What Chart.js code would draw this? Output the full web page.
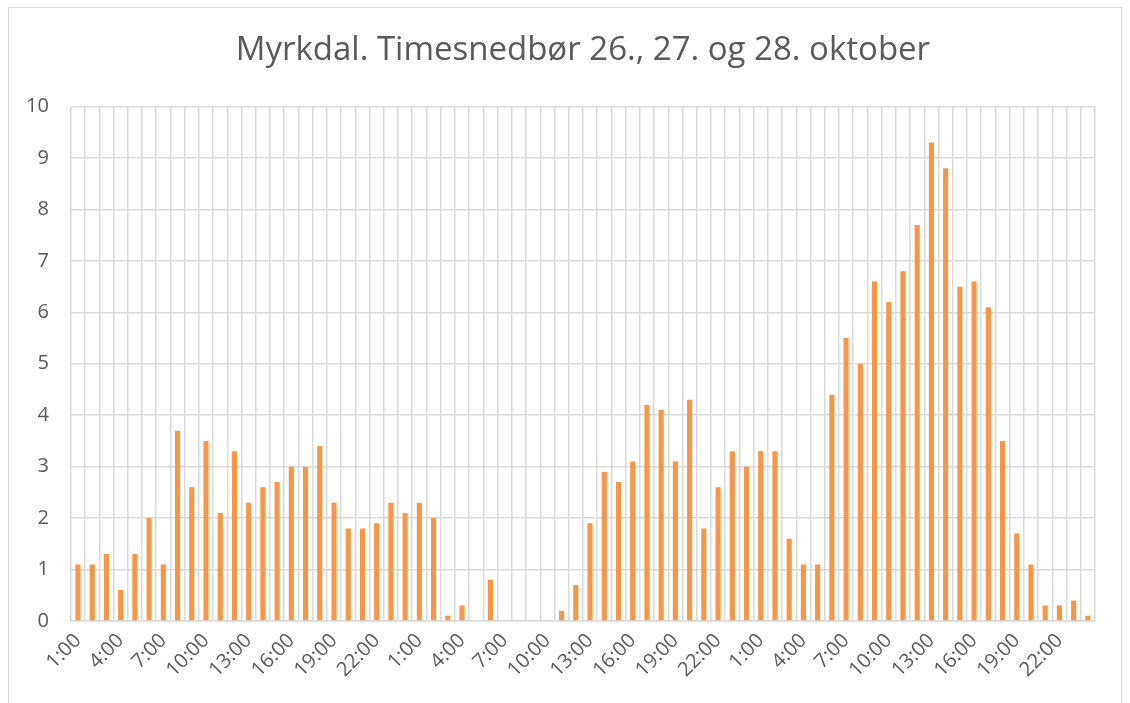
<!DOCTYPE html>
<html>
<head>
<meta charset="utf-8">
<script src="https://cdn.jsdelivr.net/npm/chart.js@4.4.1/dist/chart.umd.min.js"></script>
<style>
html,body{margin:0;padding:0;background:#fff;}
canvas{display:block;}
</style>
</head>
<body>
<canvas id="c" width="1130" height="703"></canvas>
<script>
const title = "Myrkdal. Timesnedbør 26., 27. og 28. oktober";
const hours = [];
for (let d = 0; d < 3; d++) { for (let h = 1; h <= 24; h++) hours.push(h + ":00"); }
const day26 = [1.1,1.1,1.3,0.6,1.3,2.0,1.1,3.7,2.6,3.5,2.1,3.3,2.3,2.6,2.7,3.0,3.0,3.4,2.3,1.8,1.8,1.9,2.3,2.1];
const day27 = [2.3,2.0,0.1,0.3,0,0.8,0,0,0,0,0.2,0.7,1.9,2.9,2.7,3.1,4.2,4.1,3.1,4.3,1.8,2.6,3.3,3.0];
const day28 = [3.3,3.3,1.6,1.1,1.1,4.4,5.5,5.0,6.6,6.2,6.8,7.7,9.3,8.8,6.5,6.6,6.1,3.5,1.7,1.1,0.3,0.3,0.4,0.1];
const yTicks = [0,1,2,3,4,5,6,7,8,9,10];
const values = day26.concat(day27, day28);

const FONT = "'Open Sans', sans-serif";
const borderPlugin = {
  id: 'outerBorder',
  beforeDraw(chart) {
    const ctx = chart.ctx;
    ctx.save();
    ctx.fillStyle = '#fff';
    ctx.fillRect(0, 0, chart.width, chart.height);
    ctx.strokeStyle = '#d9d9d9';
    ctx.lineWidth = 1;
    ctx.strokeRect(8.5, 7.5, 1113, 720);
    ctx.restore();
  }
};

new Chart(document.getElementById('c'), {
  type: 'bar',
  data: {
    labels: hours,
    datasets: [{
      data: values,
      backgroundColor: '#f79646',
      borderWidth: 0,
      barPercentage: 0.36,
      categoryPercentage: 1.0
    }]
  },
  options: {
    responsive: false,
    animation: false,
    layout: { padding: { left: 4, right: 35, top: 10, bottom: 13 } },
    plugins: {
      legend: { display: false },
      tooltip: { enabled: false },
      title: {
        display: true,
        fullSize: false,
        text: title,
        color: '#595959',
        font: { family: FONT, size: 33, weight: 'normal' },
        padding: { top: 21, bottom: 36 }
      }
    },
    scales: {
      x: {
        offset: true,
        grid: { offset: true, color: '#d9d9d9', lineWidth: 1.5, drawTicks: false },
        border: { color: '#d9d9d9', width: 1.5 },
        ticks: {
          autoSkip: false,
          maxRotation: 45,
          minRotation: 45,
          padding: 8,
          color: '#595959',
          font: { family: FONT, size: 20 },
          callback: function(v, i) { return i % 3 === 0 ? hours[i] : ''; }
        }
      },
      y: {
        min: yTicks[0],
        max: yTicks[yTicks.length - 1],
        grid: { color: '#d9d9d9', lineWidth: 1.5, drawTicks: false },
        border: { display: false },
        ticks: {
          stepSize: 1,
          padding: 22,
          color: '#595959',
          font: { family: FONT, size: 20 }
        }
      }
    }
  },
  plugins: [borderPlugin]
});
</script>
</body>
</html>
